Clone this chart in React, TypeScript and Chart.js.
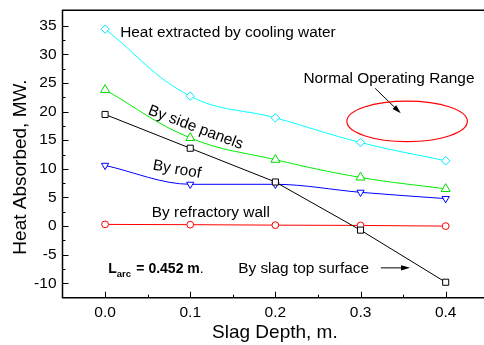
import React, { useEffect, useRef } from "react";
import { Chart, registerables } from "chart.js";

Chart.register(...registerables);

// ---- data ----
const slagDepth = [0.0, 0.1, 0.2, 0.3, 0.4];
const coolingWater = [34.4, 22.7, 18.9, 14.6, 11.4];
const sidePanels = [23.8, 15.4, 11.6, 8.5, 6.5];
const slagTopSurface = [19.5, 13.6, 7.7, -0.7, -9.8];
const roof = [10.6, 7.3, 7.3, 5.9, 4.8];
const refractoryWall = [0.3, 0.25, 0.17, 0.12, 0.0];

const xTickValues = [0.0, 0.1, 0.2, 0.3, 0.4];
const xMinorTickValues = [0.05, 0.15, 0.25, 0.35];
const yTickValues = [-10, -5, 0, 5, 10, 15, 20, 25, 30, 35];
const yMinorTickValues = [-7.5, -2.5, 2.5, 7.5, 12.5, 17.5, 22.5, 27.5, 32.5];

const xTitle = "Slag Depth, m.";
const yTitle = "Heat Absorbed, MW.";

const FONT = "'Liberation Sans', Arial, Helvetica, sans-serif";

// plot frame (pixels) and axis ranges
const AREA = { left: 62.5, right: 484, top: 10.2, bottom: 297.7 };
const X_RANGE = { min: -0.05, max: 0.445 };
const Y_RANGE = { min: -12.5, max: 37.7 };

// annotation placement in data units
const labels = [
  { text: "Heat extracted by cooling water", x: 0.0177, y: 33.0, angle: 0 },
  { text: "Normal Operating Range", x: 0.2329, y: 24.93, angle: 0 },
  { text: "By side panels", x: 0.0494, y: 19.57, angle: 20.5 },
  { text: "By roof", x: 0.0553, y: 9.87, angle: 10 },
  { text: "By refractory wall", x: 0.0549, y: 1.57, angle: 0 },
  { text: "By slag top surface", x: 0.1563, y: -8.26, angle: 0 },
];

const pts = (ys: number[]) => slagDepth.map((x, i) => ({ x, y: ys[i] }));

const fixAreaPlugin = {
  id: "fixArea",
  afterLayout(chart: any) {
    const a = chart.chartArea;
    a.left = AREA.left;
    a.right = AREA.right;
    a.top = AREA.top;
    a.bottom = AREA.bottom;
    a.width = a.right - a.left;
    a.height = a.bottom - a.top;
    const sx = chart.scales.x;
    sx.left = a.left;
    sx.right = a.right;
    sx.width = a.width;
    sx.top = a.bottom;
    sx.bottom = chart.height;
    sx.height = sx.bottom - sx.top;
    sx.configure();
    const sy = chart.scales.y;
    sy.top = a.top;
    sy.bottom = a.bottom;
    sy.height = a.height;
    sy.left = 0;
    sy.right = a.left;
    sy.width = a.left;
    sy.configure();
  },
};

const overlayPlugin = {
  id: "overlay",
  afterDraw(chart: any) {
    const { ctx, chartArea: a, scales } = chart;
    const sx = scales.x;
    const sy = scales.y;
    const X = (v: number) => sx.getPixelForValue(v);
    const Y = (v: number) => sy.getPixelForValue(v);
    ctx.save();
    // frame
    ctx.strokeStyle = "#000";
    ctx.lineWidth = 1.5;
    ctx.beginPath();
    ctx.moveTo(a.left - 0.75, a.top);
    ctx.lineTo(a.right, a.top);
    ctx.moveTo(a.left, a.top);
    ctx.lineTo(a.left, a.bottom + 0.75);
    ctx.moveTo(a.left - 0.75, a.bottom);
    ctx.lineTo(a.right, a.bottom);
    ctx.stroke();
    // inside ticks
    ctx.lineWidth = 1;
    ctx.beginPath();
    xTickValues.forEach((v) => {
      const p = Math.round(X(v)) + 0.5;
      ctx.moveTo(p, a.bottom);
      ctx.lineTo(p, a.bottom - 6);
    });
    xMinorTickValues.forEach((v) => {
      const p = Math.round(X(v)) + 0.5;
      ctx.moveTo(p, a.bottom);
      ctx.lineTo(p, a.bottom - 3);
    });
    yTickValues.forEach((v) => {
      const p = Math.round(Y(v)) + 0.5;
      ctx.moveTo(a.left, p);
      ctx.lineTo(a.left + 6, p);
    });
    yMinorTickValues.forEach((v) => {
      const p = Math.round(Y(v)) + 0.5;
      ctx.moveTo(a.left, p);
      ctx.lineTo(a.left + 3, p);
    });
    ctx.stroke();

    // text annotations
    ctx.fillStyle = "#000";
    ctx.textBaseline = "alphabetic";
    ctx.textAlign = "left";
    ctx.font = `15.4px ${FONT}`;
    labels.forEach((l) => {
      ctx.save();
      ctx.translate(X(l.x), Y(l.y));
      ctx.rotate((l.angle * Math.PI) / 180);
      ctx.fillText(l.text, 0, 0);
      ctx.restore();
    });

    // L_arc = 0.452 m.
    let lx = X(0.0036);
    const ly = Y(-8.26);
    ctx.font = `bold 14px ${FONT}`;
    ctx.fillText("L", lx, ly);
    lx += ctx.measureText("L").width;
    ctx.font = `bold 9.5px ${FONT}`;
    ctx.fillText("arc", lx, ly + 4);
    lx += ctx.measureText("arc").width + 1.5;
    ctx.font = `bold 14px ${FONT}`;
    ctx.fillText(" = 0.452 m", lx, ly);
    lx += ctx.measureText(" = 0.452 m").width;
    ctx.font = `14px ${FONT}`;
    ctx.fillText(".", lx, ly);

    // arrows
    const arrow = (x1: number, y1: number, x2: number, y2: number) => {
      const ang = Math.atan2(y2 - y1, x2 - x1);
      const hl = 9;
      const hw = 2.6;
      ctx.strokeStyle = "#000";
      ctx.lineWidth = 1;
      ctx.beginPath();
      ctx.moveTo(x1, y1);
      ctx.lineTo(x2 - Math.cos(ang) * hl * 0.8, y2 - Math.sin(ang) * hl * 0.8);
      ctx.stroke();
      ctx.beginPath();
      ctx.moveTo(x2, y2);
      ctx.lineTo(
        x2 - Math.cos(ang) * hl + Math.sin(ang) * hw,
        y2 - Math.sin(ang) * hl - Math.cos(ang) * hw
      );
      ctx.lineTo(
        x2 - Math.cos(ang) * hl - Math.sin(ang) * hw,
        y2 - Math.sin(ang) * hl + Math.cos(ang) * hw
      );
      ctx.closePath();
      ctx.fill();
    };
    arrow(X(0.3172), Y(24.06), X(0.3473), Y(19.69));
    arrow(X(0.3239), Y(-7.29), X(0.3582), Y(-7.29));

    // ellipse: normal operating range
    const cx = X(0.3547);
    const cy = Y(18.29);
    const rx = X(0.3547 + 0.0708) - cx;
    const ry = cy - Y(18.29 + 3.55);
    ctx.strokeStyle = "#FF0000";
    ctx.lineWidth = 1.2;
    ctx.beginPath();
    ctx.ellipse(cx, cy, rx, ry, 0, 0, Math.PI * 2);
    ctx.stroke();

    // axis titles
    ctx.fillStyle = "#000";
    ctx.font = `19px ${FONT}`;
    ctx.textAlign = "center";
    ctx.fillText(xTitle, X(0.2) - 0.5, 337.6);
    ctx.save();
    ctx.translate(25.5, 167);
    ctx.rotate(-Math.PI / 2);
    ctx.fillText(yTitle, 0, 0);
    ctx.restore();

    ctx.restore();
  },
};

export default function App() {
  const ref = useRef<HTMLCanvasElement>(null);

  useEffect(() => {
    const canvas = ref.current;
    if (!canvas) return;
    const common = {
      borderWidth: 1,
      pointBorderWidth: 1,
      pointBackgroundColor: "#ffffff",
      fill: false,
    };
    const chart = new Chart(canvas, {
      type: "line",
      data: {
        datasets: [
          {
            ...common,
            label: "Heat extracted by cooling water",
            data: pts(coolingWater),
            borderColor: "#00FFFF",
            pointBorderColor: "#00E8F8",
            pointStyle: "rectRot",
            pointRadius: 4.2,
            tension: 0.4,
          },
          {
            ...common,
            label: "By side panels",
            data: pts(sidePanels),
            borderColor: "#00EE00",
            pointBorderColor: "#00DD00",
            pointStyle: "triangle",
            pointRadius: 5.2,
            tension: 0.4,
          },
          {
            ...common,
            label: "By slag top surface",
            data: pts(slagTopSurface),
            borderColor: "#000000",
            pointBorderColor: "#000000",
            pointStyle: "rect",
            pointRadius: 4.3,
            tension: 0,
          },
          {
            ...common,
            label: "By roof",
            data: pts(roof),
            borderColor: "#0000FF",
            pointBorderColor: "#0000FF",
            pointStyle: "triangle",
            pointRotation: 180,
            pointRadius: 4.2,
            cubicInterpolationMode: "monotone",
          },
          {
            ...common,
            label: "By refractory wall",
            data: pts(refractoryWall),
            borderColor: "#FF0000",
            pointBorderColor: "#FF0000",
            pointStyle: "circle",
            pointRadius: 3.4,
            tension: 0,
          },
        ],
      },
      options: {
        responsive: false,
        animation: false,
        devicePixelRatio: 1,
        layout: { padding: { top: 10.2, left: 0, right: 0, bottom: 0 } },
        plugins: {
          legend: { display: false },
          tooltip: { enabled: false },
          title: { display: false },
        },
        scales: {
          x: {
            type: "linear",
            min: X_RANGE.min,
            max: X_RANGE.max,
            grid: { display: false, drawTicks: false },
            border: { display: false },
            afterBuildTicks: (s: any) => {
              s.ticks = xTickValues.map((v) => ({ value: v }));
            },
            afterFit: (s: any) => {
              s.height = 47.3;
              s.paddingLeft = 0;
              s.paddingRight = 0;
            },
            ticks: {
              padding: 6,
              color: "#000",
              autoSkip: false,
              maxRotation: 0,
              font: { family: FONT, size: 15.5 },
              callback: (v: any) => Number(v).toFixed(1),
            },
          },
          y: {
            type: "linear",
            min: Y_RANGE.min,
            max: Y_RANGE.max,
            grid: { display: false, drawTicks: false },
            border: { display: false },
            afterBuildTicks: (s: any) => {
              s.ticks = yTickValues.map((v) => ({ value: v }));
            },
            afterFit: (s: any) => {
              s.width = 62.5;
              s.paddingTop = 0;
              s.paddingBottom = 0;
            },
            ticks: {
              padding: 6,
              color: "#000",
              autoSkip: false,
              font: { family: FONT, size: 15.5 },
              callback: (v: any) => String(v),
            },
          },
        },
      },
      plugins: [fixAreaPlugin, overlayPlugin],
    } as any);
    return () => chart.destroy();
  }, []);

  return (
    <div
      style={{
        position: "absolute",
        left: 0,
        top: 0,
        width: 484,
        height: 345,
        background: "#ffffff",
        overflow: "hidden",
      }}
    >
      <canvas
        ref={ref}
        width={484}
        height={345}
        style={{ display: "block", width: 484, height: 345 }}
      />
    </div>
  );
}
